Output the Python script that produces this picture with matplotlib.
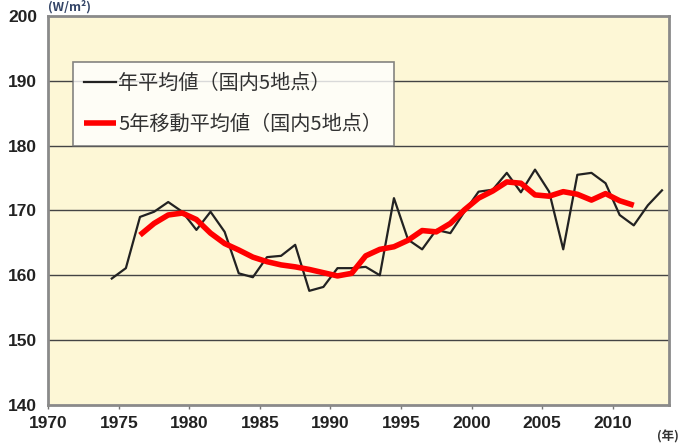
import matplotlib
matplotlib.use("Agg")
from matplotlib import pyplot as plt
import numpy as np

plt.rcParams['font.family'] = ['Noto Sans CJK JP', 'DejaVu Sans']

# 年平均値（国内5地点）
years = np.arange(1974, 2014)
annual = [159.5, 161.1, 169.0, 169.8, 171.3, 169.8, 167.0, 169.8, 166.7, 160.3,
          159.7, 162.8, 163.0, 164.7, 157.6, 158.2, 161.1, 161.1, 161.3, 160.0,
          171.9, 165.5, 164.0, 167.0, 166.5, 169.8, 172.9, 173.2, 175.8, 172.8,
          176.3, 172.9, 164.0, 175.5, 175.8, 174.2, 169.3, 167.7, 170.8, 173.1]

# 5年移動平均値（国内5地点）
ma_years = np.arange(1976, 2012)
moving = [166.2, 168.0, 169.3, 169.6, 168.6, 166.5, 164.9, 163.9, 162.8, 162.1,
          161.6, 161.3, 160.9, 160.4, 159.9, 160.3, 163.0, 164.0, 164.4, 165.4,
          166.9, 166.7, 168.0, 170.1, 171.9, 173.0, 174.4, 174.2, 172.4, 172.2,
          172.9, 172.5, 171.6, 172.6, 171.5, 170.8]

xticks = list(range(1970, 2011, 5))
yticks = list(range(140, 201, 10))

fig = plt.figure(figsize=(6.82, 4.44), dpi=100)
ax = fig.add_axes([0.0708, 0.088, 0.9102, 0.876])
ax.set_facecolor('#fdf7d6')

# 点は年の中央に置く
ax.plot(years + 0.5, annual, color='#222222', lw=1.6, label='年平均値（国内5地点）', zorder=3)
ax.plot(ma_years + 0.5, moving, color='#ff0000', lw=4, label='5年移動平均値（国内5地点）', zorder=4,
        solid_capstyle='butt')

ax.set_xlim(1970, 2014)
ax.set_ylim(140, 200)
ax.set_xticks(xticks)
ax.set_yticks(yticks)
tick_font = dict(family=['Liberation Sans Narrow', 'Liberation Sans', 'DejaVu Sans'],
                 weight='bold', size=12.5)
ax.set_xticklabels([str(t) for t in xticks], **tick_font)
ax.set_yticklabels([str(t) for t in yticks], **tick_font)
ax.tick_params(axis='x', direction='out', length=3, width=1, color='#777777', pad=5, labelcolor='#222222')
ax.tick_params(axis='y', length=0, pad=8, labelcolor='#222222')

for y in yticks[1:-1]:
    ax.axhline(y, color='#444444', lw=1.0, zorder=1)

for s in ax.spines.values():
    s.set_color('#8a8a8a')
    s.set_linewidth(2)

leg = ax.legend(loc='upper left', bbox_to_anchor=(0.040, 0.882), fontsize=14.5,
                handlelength=1.6, handletextpad=0.1, labelspacing=1.0,
                borderpad=0.55, borderaxespad=0, frameon=True, fancybox=False)
leg.get_frame().set_edgecolor('#666666')
leg.get_frame().set_linewidth(1.2)
leg.get_frame().set_facecolor('white')
for t in leg.get_texts():
    t.set_color('#333333')

fig.text(0.071, 0.999, '(W/m²)', fontsize=9, weight='bold', color='#334466',
         va='top', ha='left')
fig.text(0.995, 0.002, '(年)', fontsize=9, weight='bold', color='#333333',
         va='bottom', ha='right')

fig.savefig('out.png', dpi=100)
